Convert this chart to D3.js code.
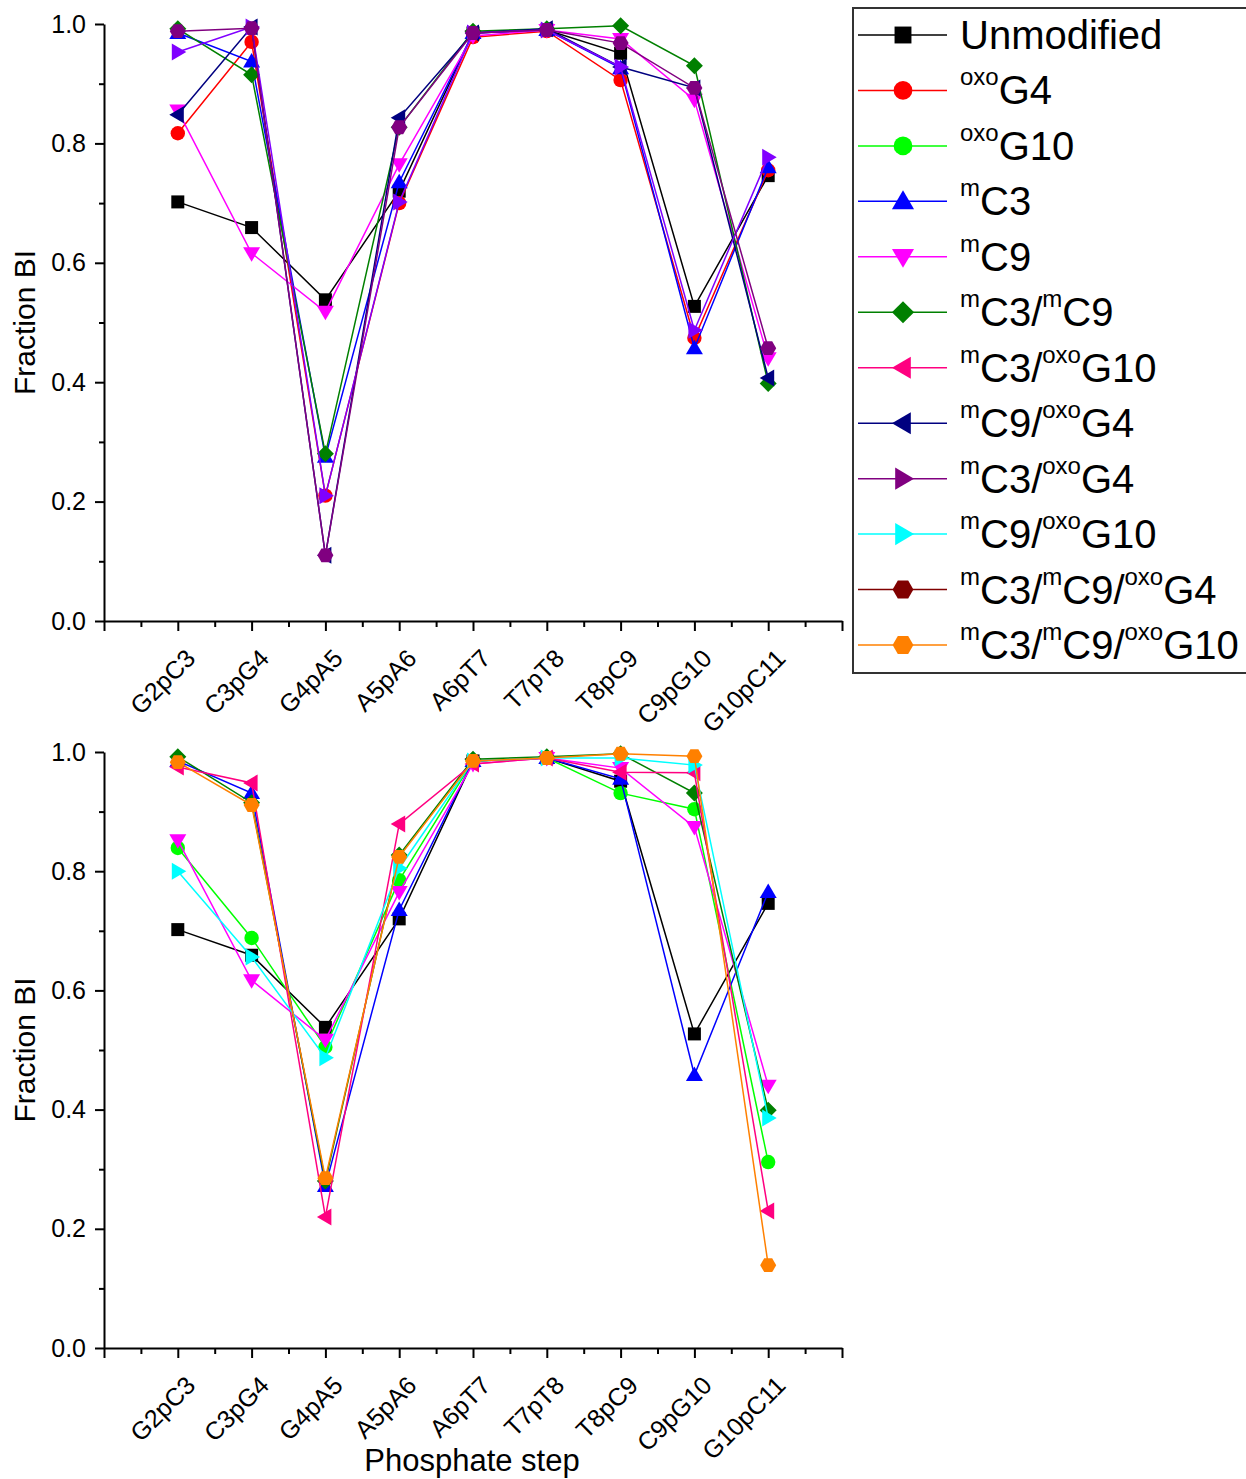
<!DOCTYPE html>
<html>
<head>
<meta charset="utf-8">
<script src="https://cdn.jsdelivr.net/npm/d3@7"></script>
<style>
  html, body { margin: 0; padding: 0; background: #fff; }
  svg { display: block; font-family: "Liberation Sans", Arial, sans-serif; }
</style>
</head>
<body>
<svg id="chart" width="1246" height="1479"></svg>
<script>
// ---------------- DATA ----------------
const categories = ["G2pC3", "C3pG4", "G4pA5", "A5pA6", "A6pT7", "T7pT8", "T8pC9", "C9pG10", "G10pC11"];
const yTicks = [0.0, 0.2, 0.4, 0.6, 0.8, 1.0];

// top panel
const unmodified      = [0.702, 0.659, 0.538, 0.720, 0.985, 0.990, 0.951, 0.527, 0.746];
const oxoG4           = [0.817, 0.970, 0.210, 0.700, 0.978, 0.988, 0.906, 0.474, 0.755];
const mC3Top          = [0.985, 0.937, 0.275, 0.735, 0.985, 0.990, 0.926, 0.457, 0.760];
const mC9Top          = [0.855, 0.616, 0.518, 0.765, 0.980, 0.990, 0.975, 0.873, 0.440];
const mC3mC9Top       = [0.992, 0.915, 0.280, 0.827, 0.988, 0.992, 0.997, 0.930, 0.398];
const mC9oxoG4        = [0.848, 0.995, 0.110, 0.843, 0.985, 0.992, 0.928, 0.893, 0.407];
const mC3oxoG4        = [0.953, 0.995, 0.210, 0.702, 0.985, 0.990, 0.928, 0.487, 0.777];
const mC3mC9oxoG4     = [0.988, 0.993, 0.110, 0.827, 0.985, 0.990, 0.968, 0.893, 0.457];

// bottom panel
const oxoG10          = [0.839, 0.688, 0.505, 0.785, 0.985, 0.990, 0.931, 0.904, 0.312];
const mC3Bottom       = [0.985, 0.931, 0.272, 0.735, 0.985, 0.990, 0.955, 0.458, 0.765];
const mC9Bottom       = [0.852, 0.617, 0.517, 0.765, 0.980, 0.990, 0.973, 0.874, 0.440];
const mC3mC9Bottom    = [0.992, 0.915, 0.280, 0.827, 0.988, 0.992, 0.997, 0.931, 0.399];
const mC3oxoG10       = [0.975, 0.948, 0.220, 0.879, 0.980, 0.990, 0.966, 0.965, 0.230];
const mC9oxoG10       = [0.800, 0.656, 0.487, 0.805, 0.985, 0.990, 0.990, 0.978, 0.386];
const mC3mC9oxoG10    = [0.983, 0.911, 0.285, 0.824, 0.985, 0.990, 0.997, 0.993, 0.139];

// legend entries: parts [text, isSuperscript]
const legendItems = [
  { parts: [["Unmodified", 0]], color: "#000000", shape: "square" },
  { parts: [["oxo", 1], ["G4", 0]], color: "#FF0000", shape: "circle" },
  { parts: [["oxo", 1], ["G10", 0]], color: "#00FF00", shape: "circle" },
  { parts: [["m", 1], ["C3", 0]], color: "#0000FF", shape: "up" },
  { parts: [["m", 1], ["C9", 0]], color: "#FF00FF", shape: "down" },
  { parts: [["m", 1], ["C3/", 0], ["m", 1], ["C9", 0]], color: "#008000", shape: "diamond" },
  { parts: [["m", 1], ["C3/", 0], ["oxo", 1], ["G10", 0]], color: "#FF0080", shape: "left" },
  { parts: [["m", 1], ["C9/", 0], ["oxo", 1], ["G4", 0]], color: "#000080", shape: "left" },
  { parts: [["m", 1], ["C3/", 0], ["oxo", 1], ["G4", 0]], color: "#800080", shape: "right" },
  { parts: [["m", 1], ["C9/", 0], ["oxo", 1], ["G10", 0]], color: "#00FFFF", shape: "right" },
  { parts: [["m", 1], ["C3/", 0], ["m", 1], ["C9/", 0], ["oxo", 1], ["G4", 0]], color: "#800000", shape: "hexagon" },
  { parts: [["m", 1], ["C3/", 0], ["m", 1], ["C9/", 0], ["oxo", 1], ["G10", 0]], color: "#FF8000", shape: "hexagon" }
];

const topSeries = [
  { values: unmodified,  color: "#000000", shape: "square" },
  { values: oxoG4,       color: "#FF0000", shape: "circle" },
  { values: mC3Top,      color: "#0000FF", shape: "up" },
  { values: mC9Top,      color: "#FF00FF", shape: "down" },
  { values: mC3mC9Top,   color: "#008000", shape: "diamond" },
  { values: mC9oxoG4,    color: "#000080", shape: "left" },
  { values: mC3oxoG4,    color: "#8000FF", shape: "right" },
  { values: mC3mC9oxoG4, color: "#800080", shape: "hexagon" }
];
const bottomSeries = [
  { values: unmodified,   color: "#000000", shape: "square" },
  { values: oxoG10,       color: "#00FF00", shape: "circle" },
  { values: mC3Bottom,    color: "#0000FF", shape: "up" },
  { values: mC9Bottom,    color: "#FF00FF", shape: "down" },
  { values: mC3mC9Bottom, color: "#008000", shape: "diamond" },
  { values: mC3oxoG10,    color: "#FF0080", shape: "left" },
  { values: mC9oxoG10,    color: "#00FFFF", shape: "right" },
  { values: mC3mC9oxoG10, color: "#FF8000", shape: "hexagon" }
];

// ---------------- DRAWING ----------------
const svg = d3.select("#chart");
svg.append("rect").attr("width", 1246).attr("height", 1479).attr("fill", "#fff");

function shapePath(shape, k) {
  k = k || 1;
  const pts = (arr) => "M" + arr.map(a => (a[0] * k).toFixed(2) + "," + (a[1] * k).toFixed(2)).join("L") + "Z";
  switch (shape) {
    case "square": return pts([[-6.5, -6.5], [6.5, -6.5], [6.5, 6.5], [-6.5, 6.5]]);
    case "circle": {
      const r = 7.2 * k;
      return `M${-r},0A${r},${r} 0 1,0 ${r},0A${r},${r} 0 1,0 ${-r},0Z`;
    }
    case "up": return pts([[0, -8.5], [8.5, 6], [-8.5, 6]]);
    case "down": return pts([[0, 8.5], [8.5, -6], [-8.5, -6]]);
    case "left": return pts([[-8.5, 0], [6, -8.5], [6, 8.5]]);
    case "right": return pts([[8.5, 0], [-6, -8.5], [-6, 8.5]]);
    case "diamond": return pts([[0, -8.5], [8.5, 0], [0, 8.5], [-8.5, 0]]);
    case "hexagon": {
      const a = [];
      for (let i = 0; i < 6; i++) {
        const t = i * Math.PI / 3;
        a.push([8 * Math.cos(t), 8 * Math.sin(t)]);
      }
      return pts(a);
    }
  }
}

const x = d3.scaleLinear().domain([0, 10]).range([104, 842]);

function drawPanel(series, y0, y1, showXTitle) {
  const y = d3.scaleLinear().domain([0, 1]).range([y0, y1]);
  const g = svg.append("g");

  // y axis
  const yAxis = g.append("g").attr("transform", `translate(${x(0)},0)`)
    .call(d3.axisLeft(y).tickValues(yTicks).tickFormat(d3.format(".1f")).tickSize(9).tickSizeOuter(0).tickPadding(9));
  yAxis.select(".domain").attr("stroke", "#000").attr("stroke-width", 2);
  yAxis.selectAll(".tick line").attr("stroke", "#000").attr("stroke-width", 2);
  yAxis.selectAll(".tick text").attr("font-size", 25).attr("font-family", "Liberation Sans, Arial, sans-serif").attr("fill", "#000");
  g.append("g").attr("transform", `translate(${x(0)},0)`)
    .call(d3.axisLeft(y).tickValues([0.1, 0.3, 0.5, 0.7, 0.9]).tickFormat("").tickSize(5).tickSizeOuter(0))
    .call(s => { s.select(".domain").remove(); s.selectAll("line").attr("stroke", "#000").attr("stroke-width", 2); });

  // x axis
  const xAxis = g.append("g").attr("transform", `translate(0,${y0})`)
    .call(d3.axisBottom(x).tickValues(d3.range(0, 11)).tickFormat("").tickSize(10).tickSizeOuter(0));
  xAxis.select(".domain").attr("stroke", "#000").attr("stroke-width", 2);
  xAxis.selectAll(".tick line").attr("stroke", "#000").attr("stroke-width", 2);
  g.append("g").attr("transform", `translate(0,${y0})`)
    .call(d3.axisBottom(x).tickValues(d3.range(0.5, 10, 1)).tickFormat("").tickSize(6).tickSizeOuter(0))
    .call(s => { s.select(".domain").remove(); s.selectAll("line").attr("stroke", "#000").attr("stroke-width", 2); });

  // category labels
  g.selectAll("text.cat").data(categories).join("text")
    .attr("class", "cat")
    .attr("transform", (d, i) => `translate(${x(i + 1) + 19},${y0 + 39}) rotate(-45)`)
    .attr("text-anchor", "end")
    .attr("font-size", 25)
    .attr("fill", "#000")
    .text(d => d);

  // y title
  g.append("text")
    .attr("transform", `translate(35,${(y0 + y1) / 2}) rotate(-90)`)
    .attr("text-anchor", "middle")
    .attr("font-size", 30)
    .attr("fill", "#000")
    .text("Fraction BI");

  if (showXTitle) {
    g.append("text").attr("x", 472).attr("y", y0 + 123)
      .attr("text-anchor", "middle").attr("font-size", 31).attr("fill", "#000")
      .text("Phosphate step");
  }

  const line = d3.line().x((d, i) => x(i + 1)).y(d => y(d));
  series.forEach(s => {
    const sg = g.append("g");
    sg.append("path").datum(s.values).attr("d", line)
      .attr("fill", "none").attr("stroke", s.color).attr("stroke-width", 1.5);
    sg.selectAll("path.m").data(s.values).join("path")
      .attr("class", "m")
      .attr("transform", (d, i) => `translate(${x(i + 1)},${y(d)})`)
      .attr("d", shapePath(s.shape))
      .attr("fill", s.color);
  });
}

drawPanel(topSeries, 621, 24, false);
drawPanel(bottomSeries, 1348, 752, true);

// ---------------- LEGEND ----------------
const lg = svg.append("g");
lg.append("rect").attr("x", 853).attr("y", 8).attr("width", 400).attr("height", 665)
  .attr("fill", "#fff").attr("stroke", "#333").attr("stroke-width", 2);
const rowY = d3.scaleLinear().domain([0, 11]).range([35, 645]);
legendItems.forEach((it, i) => {
  const cy = rowY(i);
  lg.append("line").attr("x1", 858).attr("x2", 947).attr("y1", cy).attr("y2", cy)
    .attr("stroke", it.color).attr("stroke-width", 1.5);
  lg.append("path").attr("transform", `translate(903,${cy})`).attr("d", shapePath(it.shape, 1.3)).attr("fill", it.color);
  const t = lg.append("text").attr("x", 960).attr("y", cy + 14).attr("fill", "#000");
  it.parts.forEach(([txt, sup]) => {
    if (sup) {
      t.append("tspan").attr("font-size", 24).attr("baseline-shift", "19").text(txt);
    } else {
      t.append("tspan").attr("font-size", 40).text(txt);
    }
  });
});
</script>
</body>
</html>
